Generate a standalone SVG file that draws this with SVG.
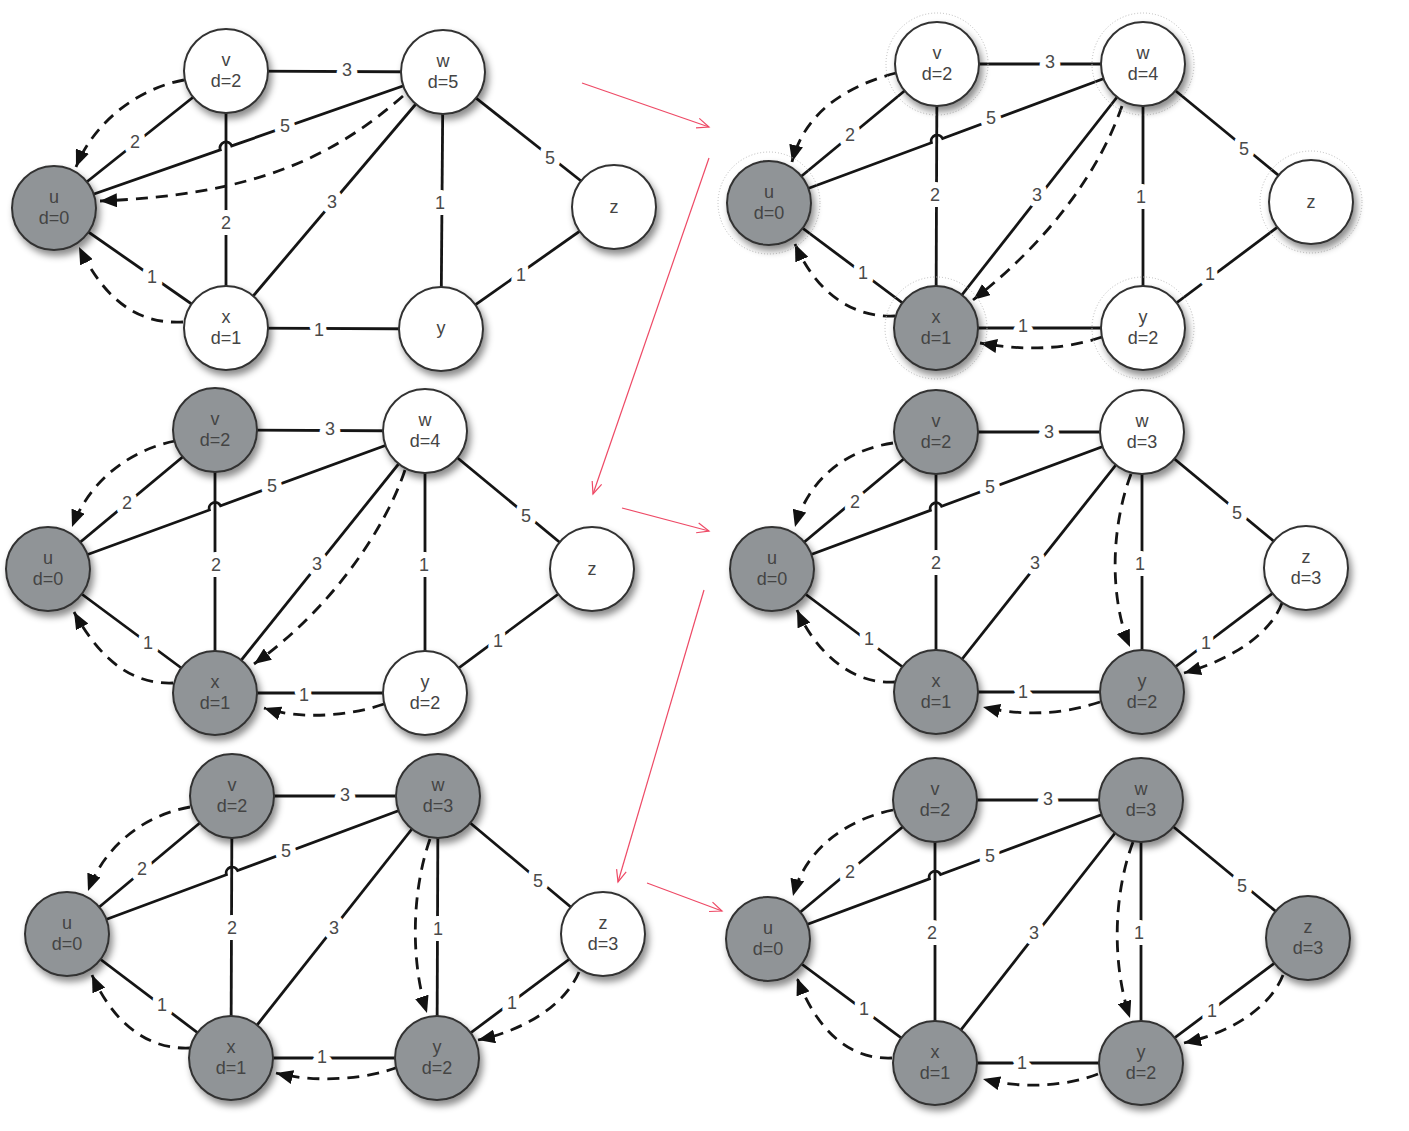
<svg xmlns="http://www.w3.org/2000/svg" width="1409" height="1131" viewBox="0 0 1409 1131">
<defs>
<style>
.e{stroke:#151515;stroke-width:2.8;fill:none}
.d{stroke:#151515;stroke-width:2.8;fill:none;stroke-dasharray:12 8;marker-end:url(#ah)}
.lb{font-family:"Liberation Sans",Arial,sans-serif;font-size:18px;fill:#4a4a4a;text-anchor:middle;stroke:#fff;stroke-width:12;paint-order:stroke;stroke-linejoin:round}
.nd{stroke:#333;stroke-width:2;filter:url(#sh)}
.wh{fill:#fff}
.gr{fill:#909497}
.nt{font-family:"Liberation Sans",Arial,sans-serif;font-size:18px;fill:#444;text-anchor:middle}
.halo{fill:none;stroke:#bbb;stroke-width:1;stroke-dasharray:1 2}
.r{stroke:#ee4a66;stroke-width:1.2;fill:none;marker-end:url(#ra)}
</style>
<filter id="sh" x="-40%" y="-40%" width="190%" height="190%">
<feDropShadow dx="3" dy="5" stdDeviation="3.5" flood-color="#000" flood-opacity="0.45"/>
</filter>
<marker id="ah" markerUnits="userSpaceOnUse" markerWidth="18" markerHeight="14" refX="17" refY="7" orient="auto">
<path d="M0,0 L17,7 L0,14 z" fill="#111"/>
</marker>
<marker id="ra" markerUnits="userSpaceOnUse" markerWidth="14" markerHeight="12" refX="12" refY="5" orient="auto" overflow="visible">
<path d="M0,0 L12,5 L0,10" fill="none" stroke="#ee4a66" stroke-width="1.2"/>
</marker>
</defs>
<rect width="1409" height="1131" fill="#fff"/>

<g id="connectors">
<g id="p1-edges">
<line class="e" x1="54" y1="208" x2="226" y2="71"/>
<line class="e" x1="54" y1="208" x2="226" y2="328"/>
<line class="e" x1="226" y1="71" x2="443" y2="72"/>
<line class="e" x1="226" y1="71" x2="226" y2="328"/>
<line class="e" x1="443" y1="72" x2="226" y2="328"/>
<line class="e" x1="443" y1="72" x2="441" y2="329"/>
<line class="e" x1="443" y1="72" x2="614" y2="207"/>
<line class="e" x1="226" y1="328" x2="441" y2="329"/>
<line class="e" x1="441" y1="329" x2="614" y2="207"/>
<path class="e" d="M54 208 L220.3 149.9 A6 6 0 0 1 231.7 145.9 L443 72"/>
<path class="d" d="M184 80 C140 88,95 120,76 167"/>
<path class="d" d="M183 322 C130 325,100 290,79 247"/>
<path class="d" d="M403 96 C330 160,250 195,100 201"/>
<text class="lb" x="347" y="76">3</text>
<text class="lb" x="135" y="148">2</text>
<text class="lb" x="285" y="132">5</text>
<text class="lb" x="226" y="229">2</text>
<text class="lb" x="332" y="208">3</text>
<text class="lb" x="440" y="209">1</text>
<text class="lb" x="550" y="164">5</text>
<text class="lb" x="152" y="283">1</text>
<text class="lb" x="319" y="336">1</text>
<text class="lb" x="521" y="281">1</text>
</g>
<g id="p2-edges">
<line class="e" x1="769" y1="203" x2="937" y2="64"/>
<line class="e" x1="769" y1="203" x2="936" y2="328"/>
<line class="e" x1="937" y1="64" x2="1143" y2="64"/>
<line class="e" x1="937" y1="64" x2="936" y2="328"/>
<line class="e" x1="1143" y1="64" x2="936" y2="328"/>
<line class="e" x1="1143" y1="64" x2="1143" y2="328"/>
<line class="e" x1="1143" y1="64" x2="1311" y2="202"/>
<line class="e" x1="936" y1="328" x2="1143" y2="328"/>
<line class="e" x1="1143" y1="328" x2="1311" y2="202"/>
<path class="e" d="M769 203 L931.4 142.7 A6 6 0 0 1 942.6 138.5 L1143 64"/>
<path class="d" d="M896 73 C850 85,805 110,792 162"/>
<path class="d" d="M895 316 C850 318,815 290,795 244"/>
<path class="d" d="M1122 106 C1100 170,1050 240,973 300"/>
<path class="d" d="M1102 337 C1070 348,1030 352,980 343"/>
<text class="lb" x="1050" y="68">3</text>
<text class="lb" x="850" y="141">2</text>
<text class="lb" x="991" y="124">5</text>
<text class="lb" x="935" y="201">2</text>
<text class="lb" x="1037" y="201">3</text>
<text class="lb" x="1141" y="203">1</text>
<text class="lb" x="1244" y="155">5</text>
<text class="lb" x="863" y="279">1</text>
<text class="lb" x="1023" y="332">1</text>
<text class="lb" x="1210" y="280">1</text>
</g>
<g id="p3-edges">
<line class="e" x1="48" y1="569" x2="215" y2="430"/>
<line class="e" x1="48" y1="569" x2="215" y2="693"/>
<line class="e" x1="215" y1="430" x2="425" y2="431"/>
<line class="e" x1="215" y1="430" x2="215" y2="693"/>
<line class="e" x1="425" y1="431" x2="215" y2="693"/>
<line class="e" x1="425" y1="431" x2="425" y2="693"/>
<line class="e" x1="425" y1="431" x2="592" y2="569"/>
<line class="e" x1="215" y1="693" x2="425" y2="693"/>
<line class="e" x1="425" y1="693" x2="592" y2="569"/>
<path class="e" d="M48 569 L209.4 510 A6 6 0 0 1 220.6 505.8 L425 431"/>
<path class="d" d="M175 441 C130 450,90 480,72 527"/>
<path class="d" d="M173 683 C125 685,95 650,74 612"/>
<path class="d" d="M405 470 C385 530,330 610,254 664"/>
<path class="d" d="M384 704 C350 716,300 720,264 708"/>
<text class="lb" x="330" y="435">3</text>
<text class="lb" x="127" y="509">2</text>
<text class="lb" x="272" y="492">5</text>
<text class="lb" x="216" y="571">2</text>
<text class="lb" x="317" y="570">3</text>
<text class="lb" x="424" y="571">1</text>
<text class="lb" x="526" y="522">5</text>
<text class="lb" x="148" y="649">1</text>
<text class="lb" x="304" y="701">1</text>
<text class="lb" x="498" y="647">1</text>
</g>
<g id="p4-edges">
<line class="e" x1="772" y1="569" x2="936" y2="432"/>
<line class="e" x1="772" y1="569" x2="936" y2="692"/>
<line class="e" x1="936" y1="432" x2="1142" y2="432"/>
<line class="e" x1="936" y1="432" x2="936" y2="692"/>
<line class="e" x1="1142" y1="432" x2="936" y2="692"/>
<line class="e" x1="1142" y1="432" x2="1142" y2="692"/>
<line class="e" x1="1142" y1="432" x2="1306" y2="568"/>
<line class="e" x1="936" y1="692" x2="1142" y2="692"/>
<line class="e" x1="1142" y1="692" x2="1306" y2="568"/>
<path class="e" d="M772 569 L930.4 510.4 A6 6 0 0 1 941.6 506.2 L1142 432"/>
<path class="d" d="M893 443 C845 450,808 480,795 527"/>
<path class="d" d="M895 682 C850 685,815 650,797 610"/>
<path class="d" d="M1100 702 C1070 712,1030 718,983 707"/>
<path class="d" d="M1131 474 C1110 530,1110 600,1130 647"/>
<path class="d" d="M1282 603 C1270 635,1230 660,1184 673"/>
<text class="lb" x="1049" y="438">3</text>
<text class="lb" x="855" y="508">2</text>
<text class="lb" x="990" y="493">5</text>
<text class="lb" x="936" y="569">2</text>
<text class="lb" x="1035" y="569">3</text>
<text class="lb" x="1140" y="570">1</text>
<text class="lb" x="1237" y="519">5</text>
<text class="lb" x="869" y="645">1</text>
<text class="lb" x="1023" y="698">1</text>
<text class="lb" x="1206" y="649">1</text>
</g>
<g id="p5-edges">
<line class="e" x1="67" y1="934" x2="232" y2="796"/>
<line class="e" x1="67" y1="934" x2="231" y2="1058"/>
<line class="e" x1="232" y1="796" x2="438" y2="796"/>
<line class="e" x1="232" y1="796" x2="231" y2="1058"/>
<line class="e" x1="438" y1="796" x2="231" y2="1058"/>
<line class="e" x1="438" y1="796" x2="437" y2="1058"/>
<line class="e" x1="438" y1="796" x2="603" y2="934"/>
<line class="e" x1="231" y1="1058" x2="437" y2="1058"/>
<line class="e" x1="437" y1="1058" x2="603" y2="934"/>
<path class="e" d="M67 934 L226.4 874.7 A6 6 0 0 1 237.6 870.5 L438 796"/>
<path class="d" d="M190 807 C145 815,105 845,88 891"/>
<path class="d" d="M190 1048 C145 1050,112 1020,92 975"/>
<path class="d" d="M398 1067 C370 1078,320 1084,276 1073"/>
<path class="d" d="M430 839 C412 890,410 960,427 1013"/>
<path class="d" d="M579 972 C565 1005,525 1030,478 1040"/>
<text class="lb" x="345" y="801">3</text>
<text class="lb" x="142" y="875">2</text>
<text class="lb" x="286" y="857">5</text>
<text class="lb" x="232" y="934">2</text>
<text class="lb" x="334" y="934">3</text>
<text class="lb" x="438" y="935">1</text>
<text class="lb" x="538" y="887">5</text>
<text class="lb" x="162" y="1011">1</text>
<text class="lb" x="322" y="1063">1</text>
<text class="lb" x="512" y="1009">1</text>
</g>
<g id="p6-edges">
<line class="e" x1="768" y1="939" x2="935" y2="800"/>
<line class="e" x1="768" y1="939" x2="935" y2="1063"/>
<line class="e" x1="935" y1="800" x2="1141" y2="800"/>
<line class="e" x1="935" y1="800" x2="935" y2="1063"/>
<line class="e" x1="1141" y1="800" x2="935" y2="1063"/>
<line class="e" x1="1141" y1="800" x2="1141" y2="1063"/>
<line class="e" x1="1141" y1="800" x2="1308" y2="938"/>
<line class="e" x1="935" y1="1063" x2="1141" y2="1063"/>
<line class="e" x1="1141" y1="1063" x2="1308" y2="938"/>
<path class="e" d="M768 939 L929.4 878.8 A6 6 0 0 1 940.6 874.6 L1141 800"/>
<path class="d" d="M893 810 C845 820,805 850,793 896"/>
<path class="d" d="M892 1058 C845 1060,815 1025,797 978"/>
<path class="d" d="M1098 1074 C1070 1085,1025 1090,983 1079"/>
<path class="d" d="M1133 842 C1113 895,1112 965,1130 1018"/>
<path class="d" d="M1283 975 C1270 1008,1230 1033,1184 1043"/>
<text class="lb" x="1048" y="805">3</text>
<text class="lb" x="850" y="878">2</text>
<text class="lb" x="990" y="862">5</text>
<text class="lb" x="932" y="939">2</text>
<text class="lb" x="1034" y="939">3</text>
<text class="lb" x="1139" y="939">1</text>
<text class="lb" x="1242" y="892">5</text>
<text class="lb" x="864" y="1015">1</text>
<text class="lb" x="1022" y="1069">1</text>
<text class="lb" x="1212" y="1017">1</text>
</g>
<g id="steps">
<path class="r" d="M582 83 L709 127"/>
<path class="r" d="M709 158 L593 494"/>
<path class="r" d="M622 508 L709 531"/>
<path class="r" d="M704 590 L618 882"/>
<path class="r" d="M647 883 L722 911"/>
</g>
</g>

<g id="p1-u"><circle class="nd gr" cx="54" cy="208" r="42"/><text class="nt"><tspan x="54" y="203">u</tspan><tspan x="54" y="224">d=0</tspan></text></g>
<g id="p1-v"><circle class="nd wh" cx="226" cy="71" r="42"/><text class="nt"><tspan x="226" y="66">v</tspan><tspan x="226" y="87">d=2</tspan></text></g>
<g id="p1-w"><circle class="nd wh" cx="443" cy="72" r="42"/><text class="nt"><tspan x="443" y="67">w</tspan><tspan x="443" y="88">d=5</tspan></text></g>
<g id="p1-x"><circle class="nd wh" cx="226" cy="328" r="42"/><text class="nt"><tspan x="226" y="323">x</tspan><tspan x="226" y="344">d=1</tspan></text></g>
<g id="p1-y"><circle class="nd wh" cx="441" cy="329" r="42"/><text class="nt" x="441" y="334">y</text></g>
<g id="p1-z"><circle class="nd wh" cx="614" cy="207" r="42"/><text class="nt" x="614" y="213">z</text></g>

<g id="p2-u"><circle class="halo" cx="769" cy="203" r="51"/><circle class="nd gr" cx="769" cy="203" r="42"/><text class="nt"><tspan x="769" y="198">u</tspan><tspan x="769" y="219">d=0</tspan></text></g>
<g id="p2-v"><circle class="halo" cx="937" cy="64" r="51"/><circle class="nd wh" cx="937" cy="64" r="42"/><text class="nt"><tspan x="937" y="59">v</tspan><tspan x="937" y="80">d=2</tspan></text></g>
<g id="p2-w"><circle class="halo" cx="1143" cy="64" r="51"/><circle class="nd wh" cx="1143" cy="64" r="42"/><text class="nt"><tspan x="1143" y="59">w</tspan><tspan x="1143" y="80">d=4</tspan></text></g>
<g id="p2-x"><circle class="halo" cx="936" cy="328" r="51"/><circle class="nd gr" cx="936" cy="328" r="42"/><text class="nt"><tspan x="936" y="323">x</tspan><tspan x="936" y="344">d=1</tspan></text></g>
<g id="p2-y"><circle class="halo" cx="1143" cy="328" r="51"/><circle class="nd wh" cx="1143" cy="328" r="42"/><text class="nt"><tspan x="1143" y="323">y</tspan><tspan x="1143" y="344">d=2</tspan></text></g>
<g id="p2-z"><circle class="halo" cx="1311" cy="202" r="51"/><circle class="nd wh" cx="1311" cy="202" r="42"/><text class="nt" x="1311" y="208">z</text></g>

<g id="p3-u"><circle class="nd gr" cx="48" cy="569" r="42"/><text class="nt"><tspan x="48" y="564">u</tspan><tspan x="48" y="585">d=0</tspan></text></g>
<g id="p3-v"><circle class="nd gr" cx="215" cy="430" r="42"/><text class="nt"><tspan x="215" y="425">v</tspan><tspan x="215" y="446">d=2</tspan></text></g>
<g id="p3-w"><circle class="nd wh" cx="425" cy="431" r="42"/><text class="nt"><tspan x="425" y="426">w</tspan><tspan x="425" y="447">d=4</tspan></text></g>
<g id="p3-x"><circle class="nd gr" cx="215" cy="693" r="42"/><text class="nt"><tspan x="215" y="688">x</tspan><tspan x="215" y="709">d=1</tspan></text></g>
<g id="p3-y"><circle class="nd wh" cx="425" cy="693" r="42"/><text class="nt"><tspan x="425" y="688">y</tspan><tspan x="425" y="709">d=2</tspan></text></g>
<g id="p3-z"><circle class="nd wh" cx="592" cy="569" r="42"/><text class="nt" x="592" y="575">z</text></g>

<g id="p4-u"><circle class="nd gr" cx="772" cy="569" r="42"/><text class="nt"><tspan x="772" y="564">u</tspan><tspan x="772" y="585">d=0</tspan></text></g>
<g id="p4-v"><circle class="nd gr" cx="936" cy="432" r="42"/><text class="nt"><tspan x="936" y="427">v</tspan><tspan x="936" y="448">d=2</tspan></text></g>
<g id="p4-w"><circle class="nd wh" cx="1142" cy="432" r="42"/><text class="nt"><tspan x="1142" y="427">w</tspan><tspan x="1142" y="448">d=3</tspan></text></g>
<g id="p4-x"><circle class="nd gr" cx="936" cy="692" r="42"/><text class="nt"><tspan x="936" y="687">x</tspan><tspan x="936" y="708">d=1</tspan></text></g>
<g id="p4-y"><circle class="nd gr" cx="1142" cy="692" r="42"/><text class="nt"><tspan x="1142" y="687">y</tspan><tspan x="1142" y="708">d=2</tspan></text></g>
<g id="p4-z"><circle class="nd wh" cx="1306" cy="568" r="42"/><text class="nt"><tspan x="1306" y="563">z</tspan><tspan x="1306" y="584">d=3</tspan></text></g>

<g id="p5-u"><circle class="nd gr" cx="67" cy="934" r="42"/><text class="nt"><tspan x="67" y="929">u</tspan><tspan x="67" y="950">d=0</tspan></text></g>
<g id="p5-v"><circle class="nd gr" cx="232" cy="796" r="42"/><text class="nt"><tspan x="232" y="791">v</tspan><tspan x="232" y="812">d=2</tspan></text></g>
<g id="p5-w"><circle class="nd gr" cx="438" cy="796" r="42"/><text class="nt"><tspan x="438" y="791">w</tspan><tspan x="438" y="812">d=3</tspan></text></g>
<g id="p5-x"><circle class="nd gr" cx="231" cy="1058" r="42"/><text class="nt"><tspan x="231" y="1053">x</tspan><tspan x="231" y="1074">d=1</tspan></text></g>
<g id="p5-y"><circle class="nd gr" cx="437" cy="1058" r="42"/><text class="nt"><tspan x="437" y="1053">y</tspan><tspan x="437" y="1074">d=2</tspan></text></g>
<g id="p5-z"><circle class="nd wh" cx="603" cy="934" r="42"/><text class="nt"><tspan x="603" y="929">z</tspan><tspan x="603" y="950">d=3</tspan></text></g>

<g id="p6-u"><circle class="nd gr" cx="768" cy="939" r="42"/><text class="nt"><tspan x="768" y="934">u</tspan><tspan x="768" y="955">d=0</tspan></text></g>
<g id="p6-v"><circle class="nd gr" cx="935" cy="800" r="42"/><text class="nt"><tspan x="935" y="795">v</tspan><tspan x="935" y="816">d=2</tspan></text></g>
<g id="p6-w"><circle class="nd gr" cx="1141" cy="800" r="42"/><text class="nt"><tspan x="1141" y="795">w</tspan><tspan x="1141" y="816">d=3</tspan></text></g>
<g id="p6-x"><circle class="nd gr" cx="935" cy="1063" r="42"/><text class="nt"><tspan x="935" y="1058">x</tspan><tspan x="935" y="1079">d=1</tspan></text></g>
<g id="p6-y"><circle class="nd gr" cx="1141" cy="1063" r="42"/><text class="nt"><tspan x="1141" y="1058">y</tspan><tspan x="1141" y="1079">d=2</tspan></text></g>
<g id="p6-z"><circle class="nd gr" cx="1308" cy="938" r="42"/><text class="nt"><tspan x="1308" y="933">z</tspan><tspan x="1308" y="954">d=3</tspan></text></g>
</svg>
